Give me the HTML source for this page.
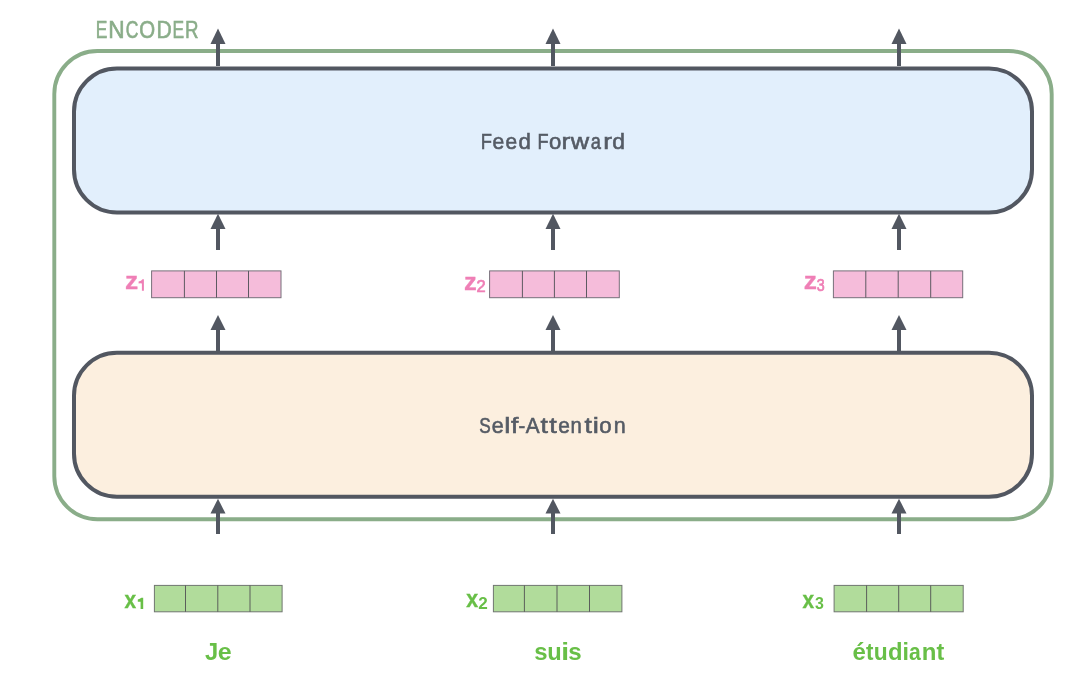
<!DOCTYPE html>
<html><head><meta charset="utf-8"><title>Encoder</title>
<style>
html,body{margin:0;padding:0;background:#ffffff;width:1068px;height:684px;overflow:hidden;font-family:"Liberation Sans",sans-serif;}
svg{display:block;position:absolute;left:0;top:0;will-change:transform;}
</style></head><body>
<svg width="1068" height="684" viewBox="0 0 1068 684">
<rect x="54.3" y="51" width="997.4" height="468.2" rx="43" ry="43" fill="none" stroke="#8aad89" stroke-width="3.9"/>
<rect x="74" y="68.5" width="958" height="144" rx="43" ry="43" fill="#e2effc" stroke="#525761" stroke-width="4"/>
<rect x="74" y="352.7" width="958" height="144.1" rx="43" ry="43" fill="#fcefdf" stroke="#525761" stroke-width="4"/>
<polygon points="218,28.6 225.5,44 210.5,44" fill="#525761"/><rect x="216.0" y="43.5" width="4" height="22.5" fill="#525761"/>
<polygon points="218,213.8 225.5,229 210.5,229" fill="#525761"/><rect x="216.0" y="228.5" width="4" height="21.5" fill="#525761"/>
<polygon points="218,315.1 225.5,330 210.5,330" fill="#525761"/><rect x="216.0" y="329.5" width="4" height="22.5" fill="#525761"/>
<polygon points="218,498.7 225.5,513.5 210.5,513.5" fill="#525761"/><rect x="216.0" y="513.0" width="4" height="21.0" fill="#525761"/>
<polygon points="553,28.6 560.5,44 545.5,44" fill="#525761"/><rect x="551.0" y="43.5" width="4" height="22.5" fill="#525761"/>
<polygon points="553,213.8 560.5,229 545.5,229" fill="#525761"/><rect x="551.0" y="228.5" width="4" height="21.5" fill="#525761"/>
<polygon points="553,315.1 560.5,330 545.5,330" fill="#525761"/><rect x="551.0" y="329.5" width="4" height="22.5" fill="#525761"/>
<polygon points="553,498.7 560.5,513.5 545.5,513.5" fill="#525761"/><rect x="551.0" y="513.0" width="4" height="21.0" fill="#525761"/>
<polygon points="899,28.6 906.5,44 891.5,44" fill="#525761"/><rect x="897.0" y="43.5" width="4" height="22.5" fill="#525761"/>
<polygon points="899,213.8 906.5,229 891.5,229" fill="#525761"/><rect x="897.0" y="228.5" width="4" height="21.5" fill="#525761"/>
<polygon points="899,315.1 906.5,330 891.5,330" fill="#525761"/><rect x="897.0" y="329.5" width="4" height="22.5" fill="#525761"/>
<polygon points="899,498.7 906.5,513.5 891.5,513.5" fill="#525761"/><rect x="897.0" y="513.0" width="4" height="21.0" fill="#525761"/>
<rect x="151.6" y="270.9" width="129.40" height="26.80" fill="#f5bcda" stroke="#77707a" stroke-width="1.0"/><line x1="184.4" y1="270.9" x2="184.4" y2="297.7" stroke="#5d5a61" stroke-width="1.0"/><line x1="216.5" y1="270.9" x2="216.5" y2="297.7" stroke="#5d5a61" stroke-width="1.0"/><line x1="248.5" y1="270.9" x2="248.5" y2="297.7" stroke="#5d5a61" stroke-width="1.0"/>
<rect x="489.6" y="270.9" width="129.70" height="26.80" fill="#f5bcda" stroke="#77707a" stroke-width="1.0"/><line x1="522.4" y1="270.9" x2="522.4" y2="297.7" stroke="#5d5a61" stroke-width="1.0"/><line x1="554.4" y1="270.9" x2="554.4" y2="297.7" stroke="#5d5a61" stroke-width="1.0"/><line x1="586.5" y1="270.9" x2="586.5" y2="297.7" stroke="#5d5a61" stroke-width="1.0"/>
<rect x="833.4" y="270.9" width="129.30" height="26.80" fill="#f5bcda" stroke="#77707a" stroke-width="1.0"/><line x1="865.8" y1="270.9" x2="865.8" y2="297.7" stroke="#5d5a61" stroke-width="1.0"/><line x1="898.2" y1="270.9" x2="898.2" y2="297.7" stroke="#5d5a61" stroke-width="1.0"/><line x1="930.7" y1="270.9" x2="930.7" y2="297.7" stroke="#5d5a61" stroke-width="1.0"/>
<rect x="154.4" y="585.4" width="127.70" height="26.40" fill="#b1dc9b" stroke="#717671" stroke-width="1.0"/><line x1="185.5" y1="585.4" x2="185.5" y2="611.8" stroke="#5b5e5b" stroke-width="1.0"/><line x1="217.8" y1="585.4" x2="217.8" y2="611.8" stroke="#5b5e5b" stroke-width="1.0"/><line x1="250.0" y1="585.4" x2="250.0" y2="611.8" stroke="#5b5e5b" stroke-width="1.0"/>
<rect x="493.4" y="585.4" width="128.50" height="26.40" fill="#b1dc9b" stroke="#717671" stroke-width="1.0"/><line x1="524.4" y1="585.4" x2="524.4" y2="611.8" stroke="#5b5e5b" stroke-width="1.0"/><line x1="557.0" y1="585.4" x2="557.0" y2="611.8" stroke="#5b5e5b" stroke-width="1.0"/><line x1="589.5" y1="585.4" x2="589.5" y2="611.8" stroke="#5b5e5b" stroke-width="1.0"/>
<rect x="834.1" y="585.4" width="129.10" height="26.40" fill="#b1dc9b" stroke="#717671" stroke-width="1.0"/><line x1="866.6" y1="585.4" x2="866.6" y2="611.8" stroke="#5b5e5b" stroke-width="1.0"/><line x1="898.7" y1="585.4" x2="898.7" y2="611.8" stroke="#5b5e5b" stroke-width="1.0"/><line x1="930.7" y1="585.4" x2="930.7" y2="611.8" stroke="#5b5e5b" stroke-width="1.0"/>
<text transform="translate(480.70,148.8) scale(0.800,1)" x="0" y="0" font-family="Liberation Sans, sans-serif" font-size="22.9" font-weight="normal" fill="#555b65" stroke="#555b65" stroke-width="0.6">F</text><text transform="translate(492.52,148.8) scale(0.923,1)" x="0" y="0" font-family="Liberation Sans, sans-serif" font-size="22.9" font-weight="normal" fill="#555b65" stroke="#555b65" stroke-width="0.6">e</text><text transform="translate(505.43,148.8) scale(0.914,1)" x="0" y="0" font-family="Liberation Sans, sans-serif" font-size="22.9" font-weight="normal" fill="#555b65" stroke="#555b65" stroke-width="0.6">e</text><text transform="translate(518.49,148.8) scale(0.973,1)" x="0" y="0" font-family="Liberation Sans, sans-serif" font-size="22.9" font-weight="normal" fill="#555b65" stroke="#555b65" stroke-width="0.6">d</text><text transform="translate(537.51,148.8) scale(0.791,1)" x="0" y="0" font-family="Liberation Sans, sans-serif" font-size="22.9" font-weight="normal" fill="#555b65" stroke="#555b65" stroke-width="0.6">F</text><text transform="translate(548.90,148.8) scale(0.965,1)" x="0" y="0" font-family="Liberation Sans, sans-serif" font-size="22.9" font-weight="normal" fill="#555b65" stroke="#555b65" stroke-width="0.6">o</text><text transform="translate(561.48,148.8) scale(1.136,1)" x="0" y="0" font-family="Liberation Sans, sans-serif" font-size="22.9" font-weight="normal" fill="#555b65" stroke="#555b65" stroke-width="0.6">r</text><text transform="translate(570.82,148.8) scale(1.111,1)" x="0" y="0" font-family="Liberation Sans, sans-serif" font-size="22.9" font-weight="normal" fill="#555b65" stroke="#555b65" stroke-width="0.6">w</text><text transform="translate(590.70,148.8) scale(0.800,1)" x="0" y="0" font-family="Liberation Sans, sans-serif" font-size="22.9" font-weight="normal" fill="#555b65" stroke="#555b65" stroke-width="0.6">a</text><text transform="translate(603.18,148.8) scale(1.136,1)" x="0" y="0" font-family="Liberation Sans, sans-serif" font-size="22.9" font-weight="normal" fill="#555b65" stroke="#555b65" stroke-width="0.6">r</text><text transform="translate(612.27,148.8) scale(1.000,1)" x="0" y="0" font-family="Liberation Sans, sans-serif" font-size="22.9" font-weight="normal" fill="#555b65" stroke="#555b65" stroke-width="0.6">d</text>
<text transform="translate(479.33,432.6) scale(0.750,1)" x="0" y="0" font-family="Liberation Sans, sans-serif" font-size="22.9" font-weight="normal" fill="#555b65" stroke="#555b65" stroke-width="0.6">S</text><text transform="translate(491.81,432.6) scale(0.941,1)" x="0" y="0" font-family="Liberation Sans, sans-serif" font-size="22.9" font-weight="normal" fill="#555b65" stroke="#555b65" stroke-width="0.6">e</text><text transform="translate(504.32,432.6) scale(1.200,1)" x="0" y="0" font-family="Liberation Sans, sans-serif" font-size="22.9" font-weight="normal" fill="#555b65" stroke="#555b65" stroke-width="0.6">l</text><text transform="translate(511.00,432.6) scale(1.156,1)" x="0" y="0" font-family="Liberation Sans, sans-serif" font-size="22.9" font-weight="normal" fill="#555b65" stroke="#555b65" stroke-width="0.6">f</text><text transform="translate(518.54,432.6) scale(0.882,1)" x="0" y="0" font-family="Liberation Sans, sans-serif" font-size="22.9" font-weight="normal" fill="#555b65" stroke="#555b65" stroke-width="0.6">-</text><text transform="translate(525.64,432.6) scale(0.906,1)" x="0" y="0" font-family="Liberation Sans, sans-serif" font-size="22.9" font-weight="normal" fill="#555b65" stroke="#555b65" stroke-width="0.6">A</text><text transform="translate(540.60,432.6) scale(1.169,1)" x="0" y="0" font-family="Liberation Sans, sans-serif" font-size="22.9" font-weight="normal" fill="#555b65" stroke="#555b65" stroke-width="0.6">t</text><text transform="translate(549.30,432.6) scale(1.185,1)" x="0" y="0" font-family="Liberation Sans, sans-serif" font-size="22.9" font-weight="normal" fill="#555b65" stroke="#555b65" stroke-width="0.6">t</text><text transform="translate(558.33,432.6) scale(0.914,1)" x="0" y="0" font-family="Liberation Sans, sans-serif" font-size="22.9" font-weight="normal" fill="#555b65" stroke="#555b65" stroke-width="0.6">e</text><text transform="translate(570.59,432.6) scale(0.888,1)" x="0" y="0" font-family="Liberation Sans, sans-serif" font-size="22.9" font-weight="normal" fill="#555b65" stroke="#555b65" stroke-width="0.6">n</text><text transform="translate(584.40,432.6) scale(1.169,1)" x="0" y="0" font-family="Liberation Sans, sans-serif" font-size="22.9" font-weight="normal" fill="#555b65" stroke="#555b65" stroke-width="0.6">t</text><text transform="translate(592.82,432.6) scale(1.200,1)" x="0" y="0" font-family="Liberation Sans, sans-serif" font-size="22.9" font-weight="normal" fill="#555b65" stroke="#555b65" stroke-width="0.6">i</text><text transform="translate(599.29,432.6) scale(0.974,1)" x="0" y="0" font-family="Liberation Sans, sans-serif" font-size="22.9" font-weight="normal" fill="#555b65" stroke="#555b65" stroke-width="0.6">o</text><text transform="translate(613.83,432.6) scale(0.937,1)" x="0" y="0" font-family="Liberation Sans, sans-serif" font-size="22.9" font-weight="normal" fill="#555b65" stroke="#555b65" stroke-width="0.6">n</text>
<text transform="translate(95.71,37.9) scale(0.750,1)" x="0" y="0" font-family="Liberation Sans, sans-serif" font-size="23.2" font-weight="normal" fill="#8aad89" stroke="#8aad89" stroke-width="0.6">E</text><text transform="translate(108.31,37.9) scale(0.978,1)" x="0" y="0" font-family="Liberation Sans, sans-serif" font-size="23.2" font-weight="normal" fill="#8aad89" stroke="#8aad89" stroke-width="0.6">N</text><text transform="translate(125.74,37.9) scale(0.754,1)" x="0" y="0" font-family="Liberation Sans, sans-serif" font-size="23.2" font-weight="normal" fill="#8aad89" stroke="#8aad89" stroke-width="0.6">C</text><text transform="translate(139.14,37.9) scale(0.879,1)" x="0" y="0" font-family="Liberation Sans, sans-serif" font-size="23.2" font-weight="normal" fill="#8aad89" stroke="#8aad89" stroke-width="0.6">O</text><text transform="translate(156.42,37.9) scale(0.911,1)" x="0" y="0" font-family="Liberation Sans, sans-serif" font-size="23.2" font-weight="normal" fill="#8aad89" stroke="#8aad89" stroke-width="0.6">D</text><text transform="translate(172.51,37.9) scale(0.750,1)" x="0" y="0" font-family="Liberation Sans, sans-serif" font-size="23.2" font-weight="normal" fill="#8aad89" stroke="#8aad89" stroke-width="0.6">E</text><text transform="translate(185.09,37.9) scale(0.807,1)" x="0" y="0" font-family="Liberation Sans, sans-serif" font-size="23.2" font-weight="normal" fill="#8aad89" stroke="#8aad89" stroke-width="0.6">R</text>
<text transform="translate(205.12,660.0) scale(1.007,1)" x="0" y="0" font-family="Liberation Sans, sans-serif" font-size="23.6" font-weight="bold" fill="#68bf47">J</text><text transform="translate(217.87,660.0) scale(1.061,1)" x="0" y="0" font-family="Liberation Sans, sans-serif" font-size="23.6" font-weight="bold" fill="#68bf47">e</text>
<text transform="translate(534.31,660.0) scale(1.013,1)" x="0" y="0" font-family="Liberation Sans, sans-serif" font-size="23.6" font-weight="bold" fill="#68bf47">s</text><text transform="translate(547.30,660.0) scale(1.002,1)" x="0" y="0" font-family="Liberation Sans, sans-serif" font-size="23.6" font-weight="bold" fill="#68bf47">u</text><text transform="translate(561.25,660.0) scale(1.200,1)" x="0" y="0" font-family="Liberation Sans, sans-serif" font-size="23.6" font-weight="bold" fill="#68bf47">i</text><text transform="translate(568.31,660.0) scale(1.022,1)" x="0" y="0" font-family="Liberation Sans, sans-serif" font-size="23.6" font-weight="bold" fill="#68bf47">s</text>
<text transform="translate(852.41,660.0) scale(1.017,1)" x="0" y="0" font-family="Liberation Sans, sans-serif" font-size="23.6" font-weight="bold" fill="#68bf47">&#233;</text><text transform="translate(865.96,660.0) scale(0.949,1)" x="0" y="0" font-family="Liberation Sans, sans-serif" font-size="23.6" font-weight="bold" fill="#68bf47">t</text><text transform="translate(873.85,660.0) scale(0.967,1)" x="0" y="0" font-family="Liberation Sans, sans-serif" font-size="23.6" font-weight="bold" fill="#68bf47">u</text><text transform="translate(887.89,660.0) scale(1.011,1)" x="0" y="0" font-family="Liberation Sans, sans-serif" font-size="23.6" font-weight="bold" fill="#68bf47">d</text><text transform="translate(902.40,660.0) scale(0.985,1)" x="0" y="0" font-family="Liberation Sans, sans-serif" font-size="23.6" font-weight="bold" fill="#68bf47">i</text><text transform="translate(908.93,660.0) scale(0.896,1)" x="0" y="0" font-family="Liberation Sans, sans-serif" font-size="23.6" font-weight="bold" fill="#68bf47">a</text><text transform="translate(921.67,660.0) scale(1.017,1)" x="0" y="0" font-family="Liberation Sans, sans-serif" font-size="23.6" font-weight="bold" fill="#68bf47">n</text><text transform="translate(936.45,660.0) scale(0.990,1)" x="0" y="0" font-family="Liberation Sans, sans-serif" font-size="23.6" font-weight="bold" fill="#68bf47">t</text>
<text transform="translate(124.95,288.9) scale(1.086,1)" x="0" y="0" font-family="Liberation Sans, sans-serif" font-size="24.3" font-weight="bold" fill="#ef7fb6" stroke="#ef7fb6" stroke-width="0.3">z</text>
<text transform="translate(464.08,289.6) scale(1.048,1)" x="0" y="0" font-family="Liberation Sans, sans-serif" font-size="24.3" font-weight="bold" fill="#ef7fb6" stroke="#ef7fb6" stroke-width="0.3">z</text>
<text transform="translate(803.85,288.9) scale(1.086,1)" x="0" y="0" font-family="Liberation Sans, sans-serif" font-size="24.3" font-weight="bold" fill="#ef7fb6" stroke="#ef7fb6" stroke-width="0.3">z</text>
<path d="M143.9,279.2 L143.9,290.8 L141.90,290.8 L141.90,283.38 Q140.25,283.18 138.6,283.38 L138.6,281.58 Q141.30,281.18 142.50,279.2 Z" fill="#ef7fb6"/>
<text transform="translate(476.39,291.6) scale(1.013,1)" x="0" y="0" font-family="Liberation Sans, sans-serif" font-size="16.2" font-weight="normal" fill="#ef7fb6" stroke="#ef7fb6" stroke-width="0.7">2</text>
<text transform="translate(816.68,290.7) scale(0.871,1)" x="0" y="0" font-family="Liberation Sans, sans-serif" font-size="16.4" font-weight="normal" fill="#ef7fb6" stroke="#ef7fb6" stroke-width="0.7">3</text>
<text transform="translate(124.51,607.5) scale(0.858,1)" x="0" y="0" font-family="Liberation Sans, sans-serif" font-size="24.3" font-weight="bold" fill="#68bf47" stroke="#68bf47" stroke-width="0.4">x</text>
<text transform="translate(466.21,607.4) scale(0.880,1)" x="0" y="0" font-family="Liberation Sans, sans-serif" font-size="24.3" font-weight="bold" fill="#68bf47" stroke="#68bf47" stroke-width="0.4">x</text>
<text transform="translate(802.51,607.6) scale(0.858,1)" x="0" y="0" font-family="Liberation Sans, sans-serif" font-size="24.3" font-weight="bold" fill="#68bf47" stroke="#68bf47" stroke-width="0.4">x</text>
<path d="M143.2,597.7 L143.2,609.1 L140.60,609.1 L140.60,601.80 Q139.20,601.60 137.8,601.80 L137.8,599.46 Q140.00,599.06 141.38,597.7 Z" fill="#68bf47"/>
<text transform="translate(478.34,609.1) scale(1.058,1)" x="0" y="0" font-family="Liberation Sans, sans-serif" font-size="16.2" font-weight="bold" fill="#68bf47">2</text>
<text transform="translate(814.94,609.4) scale(0.972,1)" x="0" y="0" font-family="Liberation Sans, sans-serif" font-size="16.4" font-weight="bold" fill="#68bf47">3</text>
</svg>
</body></html>
